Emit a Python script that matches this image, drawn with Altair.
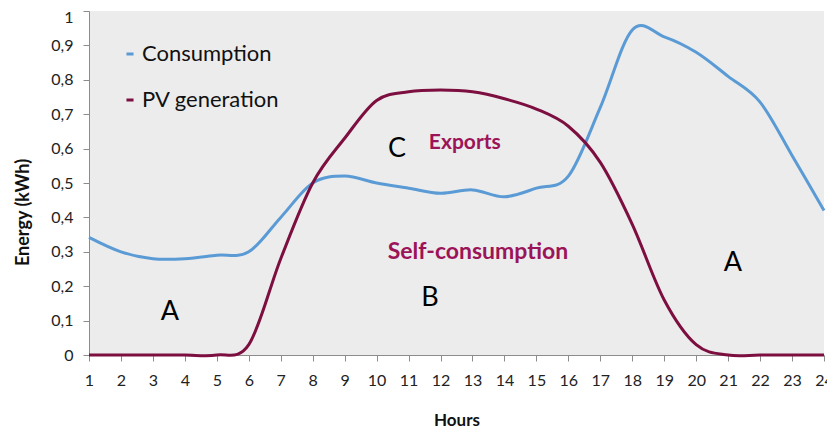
import altair as alt
import pandas as pd

hours = list(range(1, 25))
consumption = [0.342, 0.30, 0.28, 0.28, 0.29, 0.30, 0.40, 0.50, 0.52, 0.50, 0.485, 0.47,
               0.48, 0.46, 0.485, 0.52, 0.72, 0.945, 0.925, 0.88, 0.81, 0.735, 0.58, 0.42]
pv_generation = [0, 0, 0, 0, 0, 0.03, 0.28, 0.50, 0.63, 0.74, 0.765, 0.77,
                 0.765, 0.745, 0.715, 0.665, 0.56, 0.38, 0.16, 0.03, 0, 0, 0, 0]
series_names = ["Consumption", "PV generation"]
series_colors = ["#5b9bd5", "#7c0f40"]
y_ticks = [0, 0.1, 0.2, 0.3, 0.4, 0.5, 0.6, 0.7, 0.8, 0.9, 1.0]

letter_text = ["C", "B", "A", "A"]
letter_hour = [10.64, 11.67, 3.53, 21.15]
letter_energy = [0.60, 0.165, 0.125, 0.267]

label_text = ["Exports", "Self-consumption"]
label_hour = [12.76, 13.17]
label_energy = [0.615, 0.30]
label_size = [21, 23]

FONT = "Lato"

df = pd.DataFrame({
    "Hours": hours + hours,
    "Energy": consumption + pv_generation,
    "Series": [series_names[0]] * len(hours) + [series_names[1]] * len(hours),
})
letters = pd.DataFrame({"t": letter_text, "Hours": letter_hour, "Energy": letter_energy})
labels = pd.DataFrame({"t": label_text, "Hours": label_hour, "Energy": label_energy, "fs": label_size})

xs = alt.Scale(domain=[1, 24], nice=False, zero=False)
ys = alt.Scale(domain=[0, 1], nice=False)

x_axis = alt.Axis(values=hours, format="d", title="Hours", tickSize=6, labelPadding=11,
                  labelOverlap=False, labelFlush=False, labelBound=False,
                  titlePadding=24, titleFontSize=17, titleFontWeight="bold")
y_axis = alt.Axis(values=y_ticks, title="Energy (kWh)", tickSize=6, labelPadding=10,
                  labelOverlap=False, labelFlush=False, labelBound=False,
                  labelExpr="replace(format(datum.value, '~g'), '.', ',')",
                  labelOffset=alt.condition("datum.value == 1", alt.value(6), alt.value(0)),
                  titlePadding=18, titleY=201, titleFontSize=18, titleFontWeight="bold")

X = alt.X("Hours:Q", scale=xs, axis=x_axis)
Y = alt.Y("Energy:Q", scale=ys, axis=y_axis)

lines = alt.Chart(df).mark_line(interpolate="cardinal", strokeWidth=3).encode(
    x=X, y=Y,
    color=alt.Color("Series:N", scale=alt.Scale(domain=series_names, range=series_colors),
                    legend=alt.Legend(orient="none", legendX=30, legendY=32, title=None,
                                      labelFontSize=22, labelFont=FONT, labelColor="#111",
                                      symbolType="stroke", symbolSize=50, symbolStrokeWidth=3,
                                      rowPadding=24, labelOffset=1, padding=0)),
)

letter_layer = alt.Chart(letters).mark_text(fontSize=27, font=FONT, color="#000").encode(
    x=X, y=Y, text="t:N")

label_layer = alt.Chart(labels).mark_text(font=FONT, fontWeight="bold", color="#9c1458").encode(
    x=X, y=Y, text="t:N", size=alt.Size("fs:Q", scale=None, legend=None))

chart = alt.layer(lines, letter_layer, label_layer).properties(
    width=735, height=344, autosize="none",
    padding={"left": 81, "top": 3, "right": 3, "bottom": 75},
).configure_view(fill="#ececec", stroke=None).configure_axis(
    grid=False, domainColor="#8c8c8c", tickColor="#8c8c8c", labelFont=FONT,
    labelFontSize=16, labelColor="#222", titleFont=FONT, titleColor="#111",
    labelOverlap=False,
)

chart.save("out.html", embed_options={"renderer": "svg", "actions": False})
